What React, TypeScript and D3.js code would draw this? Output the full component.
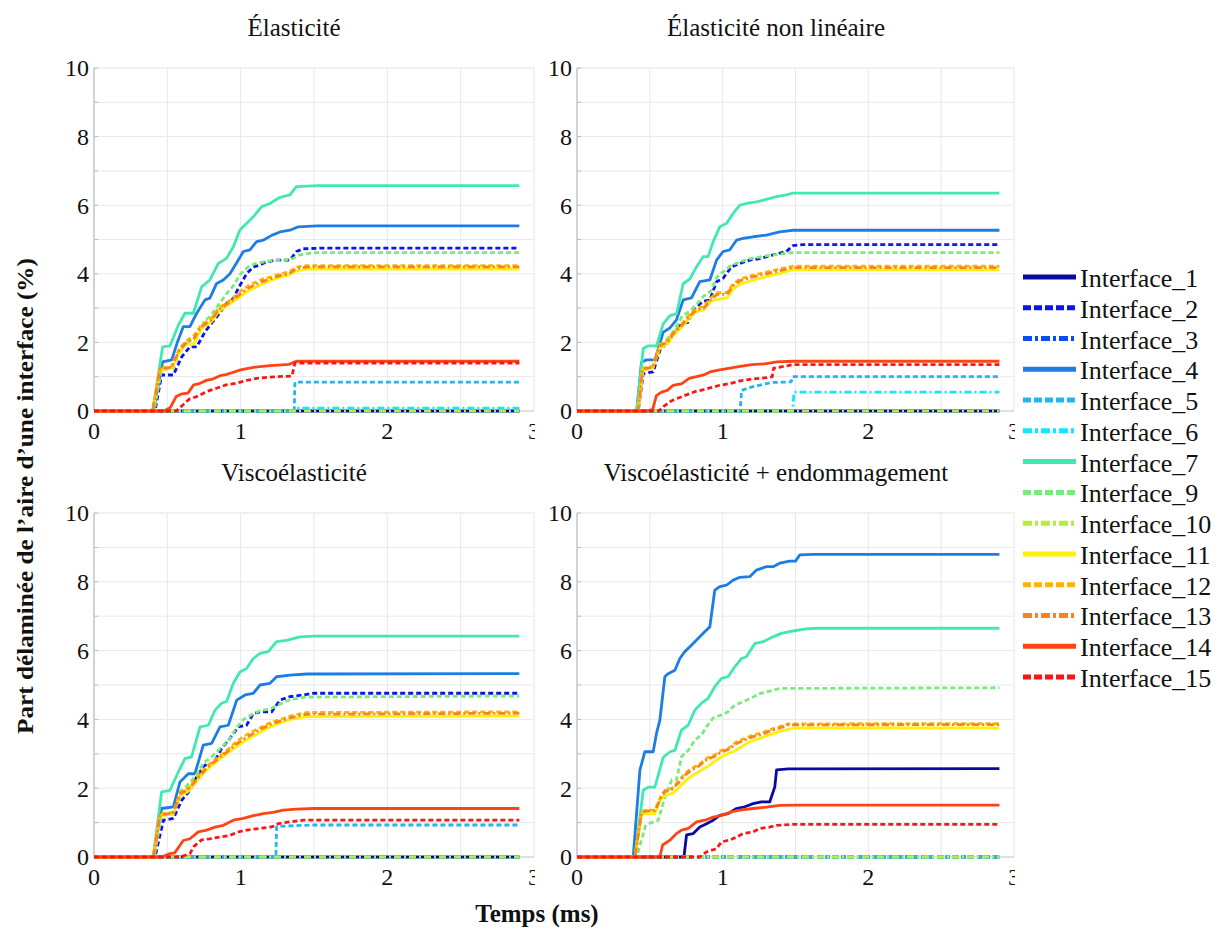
import React from 'react';
import * as d3 from 'd3';

type P = [number, number];

const INTERFACES = ['Interface_1','Interface_2','Interface_3','Interface_4','Interface_5','Interface_6','Interface_7','Interface_9','Interface_10','Interface_11','Interface_12','Interface_13','Interface_14','Interface_15'];
const COLORS = ['#0a0aa0','#0a14f0','#0a4cf5','#1c7de6','#22b6ee','#10e6ff','#3fe8b4','#78ec78','#b4ee3c','#fbf20a','#ffb400','#ff8020','#ff4414','#ff1414'];
const STYLES = ['solid','dash','dashdot','solid','dash','dashdot','solid','dash','dashdot','solid','dash','dashdot','solid','dash'];

const X_TICKS = [0, 1, 2, 3];
const Y_TICKS = [0, 2, 4, 6, 8, 10];
const X_GRID = [0.5, 1, 1.5, 2, 2.5];
const Y_GRID = [1, 2, 3, 4, 5, 6, 7, 8, 9];
const TITLES = ['Élasticité', 'Élasticité non linéaire', 'Viscoélasticité', 'Viscoélasticité + endommagement'];
const ZERO: P[] = [[0, 0], [2.9, 0]];

// ---------- Élasticité ----------
const E_I4: P[] = [[0,0],[0.404,0],[0.468,1.43],[0.53,1.49],[0.568,2.0],[0.609,2.46],[0.654,2.46],[0.7,2.85],[0.757,3.24],[0.79,3.29],[0.836,3.72],[0.882,3.82],[0.927,4.0],[0.984,4.4],[1.018,4.65],[1.063,4.7],[1.109,4.94],[1.154,4.98],[1.211,5.12],[1.268,5.22],[1.336,5.27],[1.393,5.37],[1.518,5.4],[2.9,5.4]];
const E_I7: P[] = [[0,0],[0.4,0],[0.468,1.87],[0.518,1.9],[0.575,2.5],[0.62,2.85],[0.677,2.85],[0.734,3.62],[0.79,3.82],[0.847,4.3],[0.904,4.45],[0.95,4.79],[0.995,5.28],[1.04,5.47],[1.086,5.66],[1.143,5.96],[1.2,6.05],[1.268,6.23],[1.336,6.3],[1.38,6.54],[1.53,6.57],[2.9,6.57]];
const E_I2: P[] = [[0,0],[0.416,0],[0.461,1.05],[0.541,1.05],[0.598,1.58],[0.654,1.87],[0.7,1.87],[0.757,2.31],[0.8,2.55],[0.847,2.8],[0.904,3.14],[0.95,3.28],[0.984,3.58],[1.04,4.0],[1.086,4.2],[1.13,4.25],[1.177,4.35],[1.245,4.4],[1.336,4.4],[1.38,4.65],[1.427,4.73],[1.563,4.75],[2.9,4.75]];
const E_I9: P[] = [[0,0],[0.41,0],[0.46,1.2],[0.54,1.25],[0.6,1.9],[0.65,2.05],[0.7,2.1],[0.75,2.6],[0.8,2.8],[0.85,3.1],[0.9,3.4],[0.95,3.65],[1.0,4.0],[1.05,4.2],[1.1,4.3],[1.2,4.38],[1.3,4.4],[1.36,4.45],[1.4,4.55],[1.5,4.62],[2.9,4.62]];
const E_I11: P[] = [[0,0],[0.4,0],[0.45,1.2],[0.53,1.25],[0.58,1.7],[0.63,1.95],[0.68,1.95],[0.73,2.4],[0.8,2.6],[0.85,2.9],[0.9,3.05],[0.95,3.2],[1.0,3.35],[1.05,3.5],[1.1,3.6],[1.15,3.7],[1.2,3.8],[1.27,3.9],[1.33,3.97],[1.38,4.08],[1.45,4.14],[2.9,4.14]];
const E_I12: P[] = [[0,0],[0.4,0],[0.45,1.25],[0.53,1.3],[0.58,1.8],[0.63,2.05],[0.68,2.2],[0.73,2.5],[0.8,2.7],[0.85,3.0],[0.9,3.15],[0.95,3.3],[1.0,3.5],[1.05,3.65],[1.1,3.75],[1.15,3.85],[1.2,3.9],[1.27,4.0],[1.33,4.05],[1.38,4.2],[1.45,4.24],[2.9,4.24]];
const E_I13: P[] = [[0,0],[0.4,0],[0.45,1.22],[0.53,1.28],[0.58,1.76],[0.63,2.0],[0.68,2.1],[0.73,2.45],[0.8,2.65],[0.85,2.95],[0.9,3.1],[0.95,3.25],[1.0,3.42],[1.05,3.58],[1.1,3.68],[1.15,3.78],[1.2,3.85],[1.27,3.95],[1.33,4.0],[1.38,4.15],[1.45,4.2],[2.9,4.2]];
const E_I14: P[] = [[0,0],[0.48,0],[0.52,0.1],[0.56,0.42],[0.6,0.5],[0.64,0.52],[0.68,0.76],[0.72,0.8],[0.77,0.9],[0.81,0.93],[0.86,1.03],[0.9,1.06],[0.95,1.13],[1.0,1.2],[1.05,1.24],[1.1,1.28],[1.2,1.32],[1.33,1.36],[1.38,1.45],[2.9,1.45]];
const E_I15: P[] = [[0,0],[0.56,0],[0.61,0.19],[0.65,0.35],[0.7,0.42],[0.77,0.57],[0.84,0.67],[0.9,0.76],[0.97,0.81],[1.04,0.89],[1.11,0.95],[1.2,0.99],[1.35,1.02],[1.37,1.4],[2.9,1.4]];
const E_I5: P[] = [[0,0],[1.365,0],[1.37,0.84],[2.9,0.84]];
const E_I6: P[] = [[0,0],[1.37,0],[1.38,0.08],[2.9,0.08]];

// ---------- Élasticité non linéaire ----------
const N_I7: P[] = [[0,0],[0.41,0],[0.455,1.82],[0.49,1.9],[0.546,1.9],[0.592,2.54],[0.638,2.78],[0.683,2.83],[0.729,3.71],[0.775,3.85],[0.82,4.2],[0.866,4.5],[0.9,4.5],[0.935,4.94],[0.98,5.37],[1.026,5.47],[1.072,5.76],[1.118,6.0],[1.163,6.05],[1.232,6.1],[1.3,6.17],[1.369,6.25],[1.437,6.3],[1.483,6.35],[2.9,6.35]];
const N_I4: P[] = [[0,0],[0.41,0],[0.443,1.43],[0.478,1.49],[0.535,1.49],[0.592,2.3],[0.638,2.42],[0.683,2.66],[0.729,3.24],[0.786,3.3],[0.843,3.77],[0.912,3.82],[0.958,4.4],[1.003,4.65],[1.049,4.7],[1.095,4.98],[1.14,5.03],[1.209,5.08],[1.3,5.13],[1.392,5.22],[1.483,5.27],[2.9,5.27]];
const N_I2: P[] = [[0,0],[0.42,0],[0.455,1.09],[0.523,1.14],[0.569,1.77],[0.615,1.97],[0.66,2.2],[0.717,2.54],[0.76,2.58],[0.81,3.0],[0.866,3.2],[0.912,3.24],[0.958,3.77],[1.003,3.87],[1.06,4.2],[1.118,4.3],[1.186,4.4],[1.255,4.44],[1.346,4.55],[1.437,4.65],[1.483,4.82],[1.55,4.85],[2.9,4.85]];
const N_I9: P[] = [[0,0],[0.42,0],[0.455,1.2],[0.52,1.25],[0.57,1.9],[0.62,2.1],[0.66,2.3],[0.72,2.75],[0.77,2.9],[0.82,3.1],[0.87,3.35],[0.92,3.5],[0.96,3.9],[1.0,4.05],[1.06,4.25],[1.12,4.35],[1.2,4.45],[1.3,4.52],[1.4,4.58],[1.48,4.62],[2.9,4.62]];
const N_I11: P[] = [[0,0],[0.42,0],[0.45,1.2],[0.52,1.25],[0.57,1.85],[0.62,1.95],[0.66,2.2],[0.72,2.45],[0.77,2.7],[0.82,2.9],[0.87,2.95],[0.92,3.2],[0.96,3.25],[1.03,3.3],[1.07,3.55],[1.12,3.7],[1.2,3.8],[1.3,3.92],[1.4,4.02],[1.48,4.12],[2.9,4.12]];
const N_I12: P[] = [[0,0],[0.42,0],[0.45,1.25],[0.52,1.3],[0.57,1.95],[0.62,2.05],[0.66,2.3],[0.72,2.55],[0.77,2.8],[0.82,3.0],[0.87,3.05],[0.92,3.3],[0.96,3.45],[1.03,3.45],[1.07,3.7],[1.12,3.85],[1.2,3.95],[1.3,4.05],[1.4,4.15],[1.48,4.22],[2.9,4.22]];
const N_I13: P[] = [[0,0],[0.42,0],[0.45,1.22],[0.52,1.28],[0.57,1.9],[0.62,2.0],[0.66,2.25],[0.72,2.5],[0.77,2.75],[0.82,2.95],[0.87,3.0],[0.92,3.25],[0.96,3.4],[1.03,3.4],[1.07,3.65],[1.12,3.8],[1.2,3.9],[1.3,4.0],[1.4,4.1],[1.48,4.18],[2.9,4.18]];
const N_I14: P[] = [[0,0],[0.48,0],[0.52,0.05],[0.545,0.45],[0.58,0.55],[0.62,0.6],[0.66,0.75],[0.72,0.8],[0.77,0.95],[0.82,1.0],[0.87,1.05],[0.92,1.15],[0.98,1.2],[1.05,1.25],[1.12,1.3],[1.2,1.35],[1.3,1.38],[1.37,1.43],[1.48,1.45],[2.9,1.45]];
const N_I15: P[] = [[0,0],[0.56,0],[0.6,0.15],[0.65,0.3],[0.72,0.42],[0.77,0.5],[0.82,0.58],[0.87,0.62],[0.92,0.68],[0.98,0.75],[1.05,0.8],[1.12,0.88],[1.2,0.93],[1.3,0.97],[1.34,1.0],[1.35,1.25],[1.45,1.32],[1.48,1.35],[2.9,1.35]];
const N_I5: P[] = [[0,0],[1.12,0],[1.13,0.6],[1.18,0.68],[1.25,0.75],[1.33,0.83],[1.47,0.85],[1.48,1.0],[2.9,1.0]];
const N_I6: P[] = [[0,0],[1.48,0],[1.49,0.55],[2.9,0.55]];

// ---------- Viscoélasticité ----------
const V_I7: P[] = [[0,0],[0.404,0],[0.461,1.89],[0.518,1.94],[0.575,2.47],[0.62,2.86],[0.665,2.91],[0.723,3.78],[0.78,3.83],[0.825,4.27],[0.87,4.47],[0.904,4.52],[0.95,5.05],[0.995,5.38],[1.04,5.48],[1.086,5.77],[1.132,5.92],[1.188,5.97],[1.245,6.26],[1.313,6.3],[1.404,6.4],[1.5,6.42],[2.9,6.42]];
const V_I4: P[] = [[0,0],[0.404,0],[0.461,1.41],[0.541,1.46],[0.586,2.18],[0.643,2.42],[0.688,2.42],[0.745,3.25],[0.802,3.3],[0.859,3.78],[0.916,3.83],[0.973,4.56],[1.03,4.71],[1.086,4.76],[1.132,5.0],[1.2,5.05],[1.245,5.24],[1.336,5.29],[1.45,5.32],[2.9,5.33]];
const V_I2: P[] = [[0,0],[0.416,0],[0.473,1.07],[0.541,1.12],[0.598,1.65],[0.654,1.94],[0.711,2.42],[0.757,2.67],[0.814,2.72],[0.87,3.15],[0.927,3.45],[0.984,3.78],[1.04,3.83],[1.086,4.17],[1.132,4.22],[1.211,4.22],[1.268,4.56],[1.336,4.66],[1.427,4.71],[1.495,4.76],[2.9,4.76]];
const V_I9: P[] = [[0,0],[0.41,0],[0.46,1.2],[0.54,1.25],[0.59,1.9],[0.64,2.1],[0.7,2.4],[0.75,2.75],[0.8,2.9],[0.86,3.15],[0.92,3.4],[0.97,3.75],[1.02,4.0],[1.08,4.15],[1.13,4.25],[1.2,4.3],[1.27,4.45],[1.34,4.58],[1.45,4.65],[2.9,4.68]];
const V_I11: P[] = [[0,0],[0.405,0],[0.45,1.2],[0.54,1.25],[0.59,1.8],[0.64,1.9],[0.7,2.2],[0.75,2.45],[0.8,2.65],[0.86,2.85],[0.92,3.05],[0.97,3.2],[1.02,3.35],[1.08,3.5],[1.13,3.62],[1.2,3.78],[1.27,3.9],[1.34,4.0],[1.45,4.08],[2.9,4.1]];
const V_I12: P[] = [[0,0],[0.405,0],[0.45,1.25],[0.54,1.3],[0.59,1.9],[0.64,2.0],[0.7,2.3],[0.75,2.55],[0.8,2.75],[0.86,2.95],[0.92,3.15],[0.97,3.35],[1.02,3.5],[1.08,3.65],[1.13,3.75],[1.2,3.9],[1.27,4.0],[1.34,4.1],[1.45,4.2],[2.9,4.22]];
const V_I13: P[] = [[0,0],[0.405,0],[0.45,1.22],[0.54,1.28],[0.59,1.85],[0.64,1.95],[0.7,2.25],[0.75,2.5],[0.8,2.7],[0.86,2.9],[0.92,3.1],[0.97,3.28],[1.02,3.42],[1.08,3.58],[1.13,3.7],[1.2,3.85],[1.27,3.95],[1.34,4.05],[1.45,4.15],[2.9,4.18]];
const V_I14: P[] = [[0,0],[0.461,0],[0.518,0.1],[0.55,0.12],[0.609,0.48],[0.654,0.53],[0.711,0.73],[0.768,0.78],[0.825,0.87],[0.882,0.92],[0.95,1.07],[1.018,1.12],[1.086,1.2],[1.154,1.26],[1.222,1.3],[1.29,1.36],[1.38,1.39],[1.5,1.41],[2.9,1.41]];
const V_I15: P[] = [[0,0],[0.586,0],[0.654,0.1],[0.68,0.3],[0.734,0.5],[0.79,0.53],[0.859,0.58],[0.927,0.63],[0.984,0.73],[1.04,0.78],[1.109,0.82],[1.2,0.87],[1.23,0.9],[1.257,0.97],[1.336,1.02],[1.427,1.07],[2.9,1.07]];
const V_I5: P[] = [[0,0],[1.24,0],[1.245,0.88],[1.3,0.9],[1.5,0.93],[2.9,0.93]];

// ---------- Viscoélasticité + endommagement ----------
const D_I4: P[] = [[0,0],[0.386,0],[0.432,2.53],[0.466,3.06],[0.523,3.06],[0.546,3.6],[0.569,3.98],[0.603,5.24],[0.626,5.33],[0.672,5.43],[0.706,5.77],[0.74,5.97],[0.775,6.11],[0.809,6.26],[0.843,6.4],[0.877,6.55],[0.912,6.69],[0.935,7.42],[0.946,7.76],[0.98,7.86],[1.026,7.9],[1.072,8.05],[1.118,8.13],[1.186,8.15],[1.232,8.34],[1.3,8.44],[1.346,8.44],[1.392,8.54],[1.46,8.6],[1.5,8.6],[1.529,8.78],[1.62,8.8],[2.9,8.8]];
const D_I7: P[] = [[0,0],[0.397,0],[0.455,1.94],[0.49,2.03],[0.535,2.03],[0.592,2.9],[0.638,3.06],[0.672,3.1],[0.717,3.69],[0.763,3.83],[0.809,4.27],[0.855,4.47],[0.9,4.61],[0.946,4.95],[0.992,5.19],[1.037,5.24],[1.083,5.53],[1.129,5.77],[1.163,5.82],[1.22,6.2],[1.278,6.26],[1.346,6.4],[1.403,6.5],[1.483,6.57],[1.575,6.63],[1.643,6.65],[2.9,6.65]];
const D_I9: P[] = [[0,0],[0.41,0],[0.45,0.6],[0.47,0.9],[0.5,0.98],[0.558,1.07],[0.604,1.75],[0.65,2.24],[0.683,2.24],[0.718,2.92],[0.764,3.1],[0.81,3.4],[0.855,3.55],[0.89,3.79],[0.935,4.04],[0.992,4.13],[1.037,4.22],[1.083,4.42],[1.14,4.51],[1.186,4.6],[1.255,4.75],[1.346,4.85],[1.39,4.9],[2.9,4.92]];
const D_I12: P[] = [[0,0],[0.398,0],[0.444,1.32],[0.478,1.36],[0.535,1.36],[0.58,1.8],[0.604,1.94],[0.65,1.99],[0.695,2.19],[0.741,2.43],[0.787,2.58],[0.832,2.67],[0.89,2.87],[0.947,2.97],[0.992,3.1],[1.037,3.15],[1.095,3.35],[1.152,3.45],[1.209,3.55],[1.266,3.6],[1.323,3.7],[1.392,3.79],[1.45,3.87],[2.9,3.88]];
const D_I13: P[] = [[0,0],[0.398,0],[0.444,1.3],[0.478,1.34],[0.535,1.34],[0.58,1.76],[0.604,1.9],[0.65,1.96],[0.695,2.15],[0.741,2.38],[0.787,2.53],[0.832,2.63],[0.89,2.83],[0.947,2.93],[0.992,3.06],[1.037,3.12],[1.095,3.3],[1.152,3.4],[1.209,3.5],[1.266,3.56],[1.323,3.66],[1.392,3.75],[1.45,3.84],[2.9,3.85]];
const D_I11: P[] = [[0,0],[0.398,0],[0.444,1.26],[0.535,1.26],[0.569,1.65],[0.604,1.8],[0.66,1.85],[0.706,2.04],[0.752,2.24],[0.798,2.38],[0.855,2.53],[0.912,2.67],[0.958,2.82],[1.015,2.97],[1.072,3.06],[1.129,3.2],[1.186,3.35],[1.255,3.45],[1.323,3.55],[1.392,3.65],[1.483,3.75],[2.9,3.75]];
const D_I1: P[] = [[0,0],[0.734,0],[0.752,0.64],[0.798,0.68],[0.843,0.87],[0.89,0.97],[0.935,1.07],[0.98,1.21],[1.037,1.26],[1.095,1.41],[1.152,1.46],[1.209,1.55],[1.266,1.6],[1.323,1.6],[1.358,2.04],[1.37,2.53],[1.45,2.56],[2.9,2.57]];
const D_I14: P[] = [[0,0],[0.569,0],[0.588,0.35],[0.638,0.49],[0.683,0.68],[0.718,0.78],[0.764,0.83],[0.821,1.02],[0.878,1.07],[0.935,1.16],[0.992,1.21],[1.06,1.31],[1.118,1.36],[1.209,1.41],[1.3,1.45],[1.392,1.5],[1.5,1.51],[2.9,1.51]];
const D_I15: P[] = [[0,0],[0.843,0],[0.89,0.15],[0.958,0.24],[0.992,0.44],[1.049,0.49],[1.095,0.58],[1.14,0.68],[1.209,0.73],[1.255,0.83],[1.323,0.87],[1.369,0.92],[1.483,0.95],[2.9,0.95]];

// series per panel, in the order of INTERFACES
const PANEL_SERIES: P[][][] = [
  [ZERO, E_I2, ZERO, E_I4, E_I5, E_I6, E_I7, E_I9, ZERO, E_I11, E_I12, E_I13, E_I14, E_I15],
  [ZERO, N_I2, ZERO, N_I4, N_I5, N_I6, N_I7, N_I9, ZERO, N_I11, N_I12, N_I13, N_I14, N_I15],
  [ZERO, V_I2, ZERO, V_I4, V_I5, ZERO, V_I7, V_I9, ZERO, V_I11, V_I12, V_I13, V_I14, V_I15],
  [D_I1, ZERO, ZERO, D_I4, ZERO, ZERO, D_I7, D_I9, ZERO, D_I11, D_I12, D_I13, D_I14, D_I15],
];

const FONT = "'Liberation Serif', 'Times New Roman', Times, serif";

const LAYOUT = [
  { left: 94, right: 534, top: 68, bottom: 411, titleX: 294 },
  { left: 577, right: 1014, top: 68, bottom: 411, titleX: 776 },
  { left: 94, right: 534, top: 513, bottom: 857, titleX: 294 },
  { left: 577, right: 1014, top: 513, bottom: 857, titleX: 776 },
];

function dashFor(style: string, legend = false): string | undefined {
  if (style === 'dash') return legend ? '8,3' : '5,3';
  if (style === 'dashdot') return legend ? '9,3,3,3' : '7,3,2,3';
  return undefined;
}

function Panel({ idx }: { idx: number }) {
  const L = LAYOUT[idx];
  const x = d3.scaleLinear().domain([0, 3]).range([L.left, L.right]);
  const y = d3.scaleLinear().domain([0, 10]).range([L.bottom, L.top]);
  const line = d3.line<P>().x(d => x(d[0])).y(d => y(d[1]));
  const clipId = `xclip${idx}`;
  return (
    <g>
      <defs>
        <clipPath id={clipId}>
          <rect x={L.left - 40} y={L.bottom} width={L.right - L.left + 41} height={60} />
        </clipPath>
      </defs>
      <rect x={L.left} y={L.top} width={L.right - L.left} height={L.bottom - L.top} fill="#fff" stroke="#e4e4e4" />
      {X_GRID.map(v => (
        <line key={'gx' + v} x1={x(v)} x2={x(v)} y1={L.top} y2={L.bottom} stroke="#e8e8e8" strokeWidth={1} />
      ))}
      {Y_GRID.map(v => (
        <line key={'gy' + v} x1={L.left} x2={L.right} y1={y(v)} y2={y(v)} stroke="#e8e8e8" strokeWidth={1} />
      ))}
      {d3.range(0, 11).map(v => (
        <line key={'ty' + v} x1={L.left} x2={L.left + 4} y1={y(v)} y2={y(v)} stroke="#bbb" strokeWidth={1} />
      ))}
      <line x1={L.left} x2={L.left} y1={L.top} y2={L.bottom} stroke="#c8c8c8" strokeWidth={1.5} />
      <line x1={L.left} x2={L.right} y1={L.bottom} y2={L.bottom} stroke="#d0d0d0" strokeWidth={1} />
      {PANEL_SERIES[idx].map((pts, i) => (
        <path key={'s' + i} d={line(pts) || ''} fill="none" stroke={COLORS[i]} strokeWidth={2.8}
          strokeDasharray={dashFor(STYLES[i])} strokeLinejoin="round" />
      ))}
      {Y_TICKS.map(v => (
        <text key={'yl' + v} x={L.left - 5} y={y(v)} dy="0.35em" textAnchor="end" fontFamily={FONT} fontSize={24} fill="#111">{v}</text>
      ))}
      <g clipPath={`url(#${clipId})`}>
        {X_TICKS.map(v => (
          <text key={'xl' + v} x={x(v)} y={L.bottom + 28} textAnchor="middle" fontFamily={FONT} fontSize={24} fill="#111">{v}</text>
        ))}
      </g>
      <text x={L.titleX} y={L.top - 32} textAnchor="middle" fontFamily={FONT} fontSize={25} fill="#111">{TITLES[idx]}</text>
    </g>
  );
}

function Legend() {
  const y = d3.scaleLinear().domain([0, INTERFACES.length - 1]).range([277, 677]);
  return (
    <g>
      {INTERFACES.map((name, i) => (
        <g key={name}>
          <line x1={1023} x2={1076} y1={y(i)} y2={y(i)} stroke={COLORS[i]} strokeWidth={5} strokeDasharray={dashFor(STYLES[i], true)} />
          <text x={1080} y={y(i) + 10} fontFamily={FONT} fontSize={26} fill="#111">{name}</text>
        </g>
      ))}
    </g>
  );
}

export default function App() {
  return (
    <svg width={1224} height={933} style={{ position: 'absolute', left: 0, top: 0, background: '#fff' }}>
      <rect width={1224} height={933} fill="#fff" />
      {LAYOUT.map((_, i) => <Panel key={i} idx={i} />)}
      <Legend />
      <text transform="translate(33,496) rotate(-90)" textAnchor="middle" fontFamily={FONT} fontWeight="bold" fontSize={23}
        textLength={476} lengthAdjust="spacingAndGlyphs" fill="#111">Part délaminée de l’aire d’une interface (%)</text>
      <text x={537} y={922} textAnchor="middle" fontFamily={FONT} fontWeight="bold" fontSize={25} fill="#111">Temps (ms)</text>
    </svg>
  );
}
